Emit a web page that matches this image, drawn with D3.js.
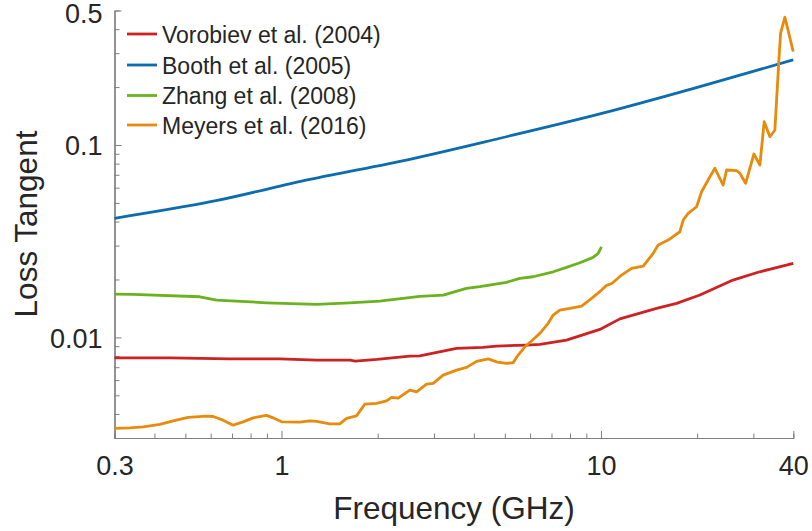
<!DOCTYPE html>
<html><head><meta charset="utf-8">
<script src="https://cdn.jsdelivr.net/npm/d3@7"></script>
<style>
html,body{margin:0;padding:0;background:#fff;}
svg text{font-family:"Liberation Sans",Arial,Helvetica,sans-serif;fill:#262626;}
</style></head>
<body><svg id="c" width="812" height="531"></svg>
<script>
// ---- data ----
const xMajorTicks = [0.3, 1, 10, 40];
const xMajorLabels = ["0.3", "1", "10", "40"];
const xMinorTicks = [0.4,0.5,0.6,0.7,0.8,0.9,2,3,4,5,6,7,8,9,20,30];
const yMajorTicks = [0.01, 0.1, 0.5];
const yMajorLabels = ["0.01", "0.1", "0.5"];
const yMinorTicks = [0.004,0.005,0.006,0.007,0.008,0.009,0.02,0.03,0.04,0.05,0.06,0.07,0.08,0.09,0.2,0.3,0.4];

const seriesNames = ["Vorobiev et al. (2004)","Booth et al. (2005)","Zhang et al. (2008)","Meyers et al. (2016)"];
const seriesColors = ["#CC2222","#0C6CAD","#6AB21E","#E88A0C"];

const vorobievX = [0.3,0.447,0.689,0.988,1.29,1.64,1.70,1.99,2.52,2.71,3.53,4.27,4.71,5.85,6.44,7.80,9.92,11.46,14.93,17.25,20.4,25.9,31.4,40];
const vorobievY = [0.00783,0.00783,0.00774,0.00774,0.00762,0.00762,0.00753,0.00768,0.00800,0.00802,0.00877,0.00887,0.00901,0.00912,0.00920,0.00968,0.0110,0.01248,0.01415,0.01503,0.0166,0.01986,0.02193,0.02426];

const boothX = [0.3,0.6,1.226,2.52,4.83,9.92,20.4,40];
const boothY = [0.0416,0.0507,0.0663,0.0843,0.1084,0.145,0.201,0.277];

const zhangX = [0.3,0.343,0.555,0.626,0.898,1.287,1.636,2.03,2.71,3.21,3.79,4.18,5.06,5.57,6.13,7.09,7.80,8.59,9.45,9.80,10.04];
const zhangY = [0.0168,0.01674,0.01626,0.01563,0.01513,0.01484,0.01513,0.01545,0.01634,0.0166,0.01798,0.01834,0.01932,0.02027,0.02066,0.02193,0.02312,0.02443,0.02606,0.02734,0.02958];

const meyersX = [0.300,0.335,0.369,0.416,0.458,0.510,0.582,0.611,0.656,0.706,0.758,0.815,0.898,0.941,1.0,1.141,1.226,1.287,1.417,1.522,1.598,1.717,1.823,1.983,2.132,2.21,2.318,2.52,2.647,2.844,2.983,3.206,3.531,3.795,4.08,4.436,4.738,5.063,5.31,5.506,5.778,6.133,6.437,6.834,7.087,7.434,7.99,8.696,9.347,10.04,10.41,10.82,11.6,12.47,13.56,14.57,15.1,16.23,17.66,18.09,18.75,19.92,20.65,21.93,22.73,24.13,24.74,26.58,27.22,28.37,30.11,31.44,32.43,33.8,35.03,35.46,36.06,36.5,37.65,39.98];
const meyersY = [0.003363,0.003388,0.003429,0.003529,0.003684,0.003837,0.003897,0.00388,0.003715,0.003499,0.00364,0.003819,0.00393,0.003819,0.00364,0.003627,0.003684,0.003657,0.003554,0.003554,0.00379,0.003912,0.0045,0.004537,0.00468,0.004875,0.00483,0.005321,0.005213,0.005716,0.005765,0.006368,0.006761,0.006982,0.007509,0.007729,0.007438,0.007322,0.007395,0.008091,0.008935,0.00976,0.01049,0.01183,0.01306,0.01387,0.01415,0.01455,0.01595,0.01762,0.01864,0.01905,0.02109,0.02285,0.02349,0.02734,0.0302,0.03206,0.03541,0.04074,0.04414,0.04776,0.05717,0.06842,0.07565,0.06194,0.07413,0.07349,0.0713,0.06322,0.08978,0.0787,0.1322,0.1104,0.1197,0.1714,0.2767,0.381,0.4613,0.3055];

// ---- chart ----
const svg = d3.select("#c");
const x = d3.scaleLog().domain([0.3, 40]).range([114.5, 793.3]);
const y = d3.scaleLog().domain([0.003, 0.5]).range([438, 10.5]);
const axisColor = "#7f7f7f";

function styleAxis(g){
  g.select(".domain").attr("stroke", axisColor).attr("stroke-width", 1.2);
  g.selectAll(".tick line").attr("stroke", axisColor).attr("stroke-width", 1);
}

// minor ticks
svg.append("g").attr("transform","translate(0,438)")
  .call(d3.axisBottom(x).tickValues(xMinorTicks).tickSize(-4.5).tickFormat(""))
  .call(styleAxis);
svg.append("g").attr("transform","translate(114.5,0)")
  .call(d3.axisLeft(y).tickValues(yMinorTicks).tickSize(-5).tickFormat(""))
  .call(styleAxis);

// major ticks + labels
const gx = svg.append("g").attr("transform","translate(0,438)")
  .call(d3.axisBottom(x).tickValues(xMajorTicks).tickSizeInner(-7).tickSizeOuter(0).tickPadding(18)
    .tickFormat((d,i)=>xMajorLabels[i]))
  .call(styleAxis);
gx.selectAll("text").attr("font-size", 27).attr("fill","#262626");

const gy = svg.append("g").attr("transform","translate(114.5,0)")
  .call(d3.axisLeft(y).tickValues(yMajorTicks).tickSizeInner(-7).tickSizeOuter(0).tickPadding(12)
    .tickFormat((d,i)=>yMajorLabels[i]))
  .call(styleAxis);
gy.selectAll("text").attr("font-size", 27).attr("fill","#262626")
  .attr("y", d => d === 0.5 ? 3.5 : 1);

// axis titles
svg.append("text").attr("x", 454).attr("y", 519).attr("text-anchor","middle")
  .attr("font-size", 31.5).text("Frequency (GHz)");
svg.append("text").attr("transform","translate(37,224) rotate(-90)").attr("text-anchor","middle")
  .attr("font-size", 31.5).text("Loss Tangent");

// lines
const seriesX = [vorobievX, boothX, zhangX, meyersX];
const seriesY = [vorobievY, boothY, zhangY, meyersY];
[0, 1, 2, 3].forEach(i => {
  const pts = seriesX[i].map((v,k)=>[v, seriesY[i][k]]);
  const line = d3.line().x(d=>x(d[0])).y(d=>y(d[1]))
    .curve(i === 1 ? d3.curveMonotoneX : d3.curveLinear);
  svg.append("path").datum(pts).attr("d", line)
    .attr("fill","none").attr("stroke", seriesColors[i]).attr("stroke-width", 2.8)
    .attr("stroke-linejoin","round").attr("stroke-linecap","butt");
});

// legend
const legendRows = [34, 65, 95.5, 125];
seriesNames.forEach((name,i)=>{
  const g = svg.append("g").attr("transform",`translate(0,${legendRows[i]})`);
  g.append("line").attr("x1",127).attr("x2",157).attr("y1",0).attr("y2",0)
    .attr("stroke", seriesColors[i]).attr("stroke-width", 2.8);
  g.append("text").attr("x",162).attr("y",8.5).attr("font-size",23).text(name);
});
</script></body></html>
